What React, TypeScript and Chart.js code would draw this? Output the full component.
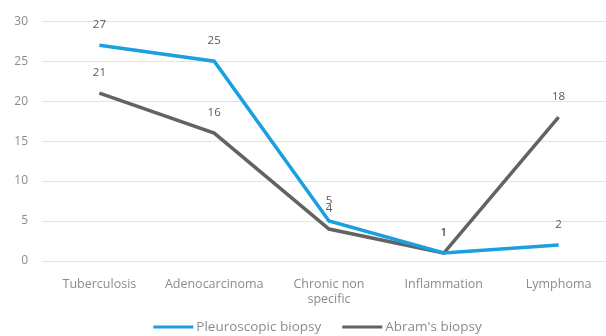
import React, { useEffect, useRef } from "react";
import { Chart, registerables } from "chart.js";

Chart.register(...registerables);

const categories: (string | string[])[] = [
  "Tuberculosis",
  "Adenocarcinoma",
  ["Chronic non", "specific"],
  "Inflammation",
  "Lymphoma",
];
const pleuroscopic = [27, 25, 5, 1, 2];
const abrams = [21, 16, 4, 1, 18];
const yTicks = [0, 5, 10, 15, 20, 25, 30];

const FONT = "'Open Sans', sans-serif";

const labelPlugin = {
  id: "pointLabels",
  afterDatasetsDraw(chart: any) {
    const ctx = chart.ctx;
    ctx.save();
    ctx.font = `11.5px ${FONT}`;
    ctx.fillStyle = "#595959";
    ctx.textAlign = "center";
    ctx.textBaseline = "middle";
    chart.data.datasets.forEach((ds: any, i: number) => {
      const meta = chart.getDatasetMeta(i);
      meta.data.forEach((pt: any, j: number) => {
        ctx.fillText(String(ds.data[j]), pt.x, pt.y - 20);
      });
    });
    ctx.restore();
  },
};

const legendPlugin = {
  id: "customLegend",
  afterDraw(chart: any) {
    const ctx = chart.ctx;
    ctx.save();
    ctx.font = `13.5px ${FONT}`;
    ctx.textBaseline = "middle";
    ctx.textAlign = "left";
    const boxW = 40;
    const gap = 3;
    const itemGap = 21;
    const items = chart.data.datasets.map((ds: any) => ({
      label: ds.label,
      color: ds.borderColor,
      w: ctx.measureText(ds.label).width,
    }));
    const total =
      items.reduce((s: number, it: any) => s + boxW + gap + it.w, 0) + itemGap * (items.length - 1);
    let x = 317.5 - total / 2;
    const y = 327;
    items.forEach((it: any) => {
      ctx.fillStyle = it.color;
      ctx.fillRect(x, y - 1.5, boxW, 3);
      x += boxW + gap;
      ctx.fillStyle = "#8c8c8c";
      ctx.fillText(it.label, x, y);
      x += it.w + itemGap;
    });
    ctx.restore();
  },
};

export default function App() {
  const ref = useRef<HTMLCanvasElement>(null);
  useEffect(() => {
    if (!ref.current) return;
    const chart = new Chart(ref.current, {
      type: "line",
      data: {
        labels: categories,
        datasets: [
          {
            label: "Pleuroscopic biopsy",
            data: pleuroscopic,
            borderColor: "#1a9fe0",
            backgroundColor: "#1a9fe0",
            borderWidth: 3.5,
            pointRadius: 0,
            tension: 0,
          },
          {
            label: "Abram's biopsy",
            data: abrams,
            borderColor: "#636363",
            backgroundColor: "#636363",
            borderWidth: 3.5,
            pointRadius: 0,
            tension: 0,
          },
        ],
      },
      options: {
        animation: false,
        responsive: false,
        layout: { padding: { top: 18, left: 0, right: 0, bottom: 18 } },
        plugins: {
          tooltip: { enabled: false },
          legend: { display: false },
        },
        scales: {
          x: {
            offset: true,
            grid: { display: false },
            border: { display: false },
            ticks: {
              color: "#8c8c8c",
              font: { family: FONT, size: 12.5 },
              maxRotation: 0,
              autoSkip: false,
              padding: 8,
            },
            afterFit(scale: any) {
              scale.height = 57;
            },
          },
          y: {
            min: 0,
            max: 30,
            afterBuildTicks(scale: any) {
              scale.ticks = yTicks.map((v) => ({ value: v }));
            },
            grid: { color: "#e3e3e3", drawTicks: false },
            border: { display: false },
            ticks: {
              color: "#8c8c8c",
              font: { family: FONT, size: 12 },
              padding: 14,
            },
            afterFit(scale: any) {
              scale.width = 42;
            },
          },
        },
      },
      plugins: [labelPlugin, legendPlugin],
    });
    return () => chart.destroy();
  }, []);
  return (
    <div style={{ position: "fixed", left: 0, top: 0, width: 606, height: 336, overflow: "hidden" }}>
      <canvas ref={ref} width={616} height={336} style={{ display: "block" }} />
    </div>
  );
}
